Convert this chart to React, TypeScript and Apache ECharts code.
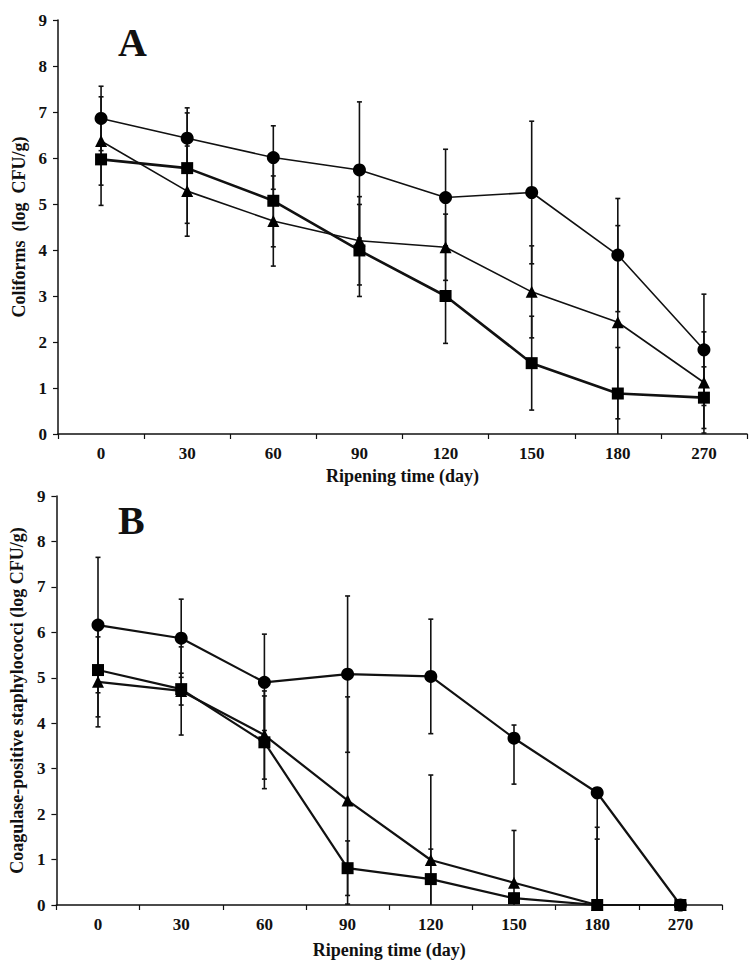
import React, { useEffect, useRef } from "react";
import * as echarts from "echarts";

const days = ["0", "30", "60", "90", "120", "150", "180", "270"];
const yTicks = [0, 9, 1];

// Panel A – Coliforms
const aCircle = [6.86, 6.43, 6.01, 5.74, 5.14, 5.25, 3.89, 1.83];
const aCircleErr = [0.7, 0.66, 0.69, 1.48, 1.05, 1.55, 1.23, 1.21];
const aTriangle = [6.37, 5.28, 4.63, 4.2, 4.06, 3.09, 2.43, 1.12];
const aTriangleErr = [0.96, 0.98, 0.98, 0.96, 0.72, 1.0, 2.1, 1.1];
const aSquare = [5.97, 5.78, 5.07, 3.99, 3.0, 1.54, 0.88, 0.79];
const aSquareErr = [1.0, 1.2, 1.0, 1.0, 1.03, 1.02, 1.0, 0.67];

// Panel B – Coagulase-positive staphylococci
const bCircle = [6.16, 5.87, 4.9, 5.08, 5.03, 3.67, 2.47, 0];
const bCircleErrUp = [1.49, 0.86, 1.06, 1.72, 1.26, 0.29, 0, 0];
const bCircleErrDown = [1.49, 0.86, 1.06, 1.72, 1.26, 1.01, 2.5, 0];
const bTriangle = [4.91, 4.71, 3.74, 2.3, 0.99, 0.49, 0, 0];
const bTriangleErr = [0.99, 0.97, 0.97, 2.28, 1.87, 1.15, 1.71, 0];
const bSquare = [5.17, 4.75, 3.58, 0.81, 0.57, 0.15, 0, 0];
const bSquareErr = [1.03, 0.35, 1.02, 0.6, 0.66, 0.1, 1.45, 0];

const FONT = "'Liberation Serif', 'Times New Roman', serif";

function errData(vals: number[], up: number[], down: number[]) {
  return vals.map((v, i) => [i, v - down[i], v + up[i]]);
}

function errSeries(data: number[][], gi: number) {
  return {
    type: "custom",
    xAxisIndex: gi,
    yAxisIndex: gi,
    z: 1,
    silent: true,
    encode: { x: 0, y: [1, 2] },
    data,
    renderItem: (params: any, api: any) => {
      const x = api.value(0);
      const lo = api.value(1);
      const hi = api.value(2);
      if (hi - lo <= 0) return { type: "group", children: [] };
      const clipped = lo < 0;
      const pHi = api.coord([x, hi]);
      const pLo = api.coord([x, Math.max(lo, 0)]);
      const style = { stroke: "#111", lineWidth: 1.6 };
      const w = 2.5;
      const children: any[] = [
        { type: "line", shape: { x1: pHi[0], y1: pHi[1], x2: pLo[0], y2: pLo[1] }, style },
        { type: "line", shape: { x1: pHi[0] - w, y1: pHi[1], x2: pHi[0] + w, y2: pHi[1] }, style },
      ];
      if (!clipped) {
        children.push({
          type: "line",
          shape: { x1: pLo[0] - w, y1: pLo[1], x2: pLo[0] + w, y2: pLo[1] },
          style,
        });
      }
      return { type: "group", children };
    },
  };
}

function lineSeries(data: number[], gi: number, symbol: string, size: number, width: number) {
  return {
    type: "line",
    xAxisIndex: gi,
    yAxisIndex: gi,
    z: 3,
    data,
    symbol,
    symbolSize: size,
    showSymbol: true,
    itemStyle: { color: "#000" },
    lineStyle: { color: "#111", width },
  };
}

const axisLabelStyle = {
  color: "#111",
  fontFamily: FONT,
  fontWeight: "bold" as const,
  fontSize: 17,
};

function xAxis(gi: number, nameGap: number) {
  return {
    type: "category",
    gridIndex: gi,
    data: days,
    boundaryGap: true,
    axisLine: { lineStyle: { color: "#111", width: 1.5 } },
    axisTick: { show: true, length: 5, lineStyle: { color: "#111", width: 1.2 } },
    axisLabel: { ...axisLabelStyle, margin: 11 },
    name: "Ripening time (day)",
    nameLocation: "middle",
    nameGap,
    nameTextStyle: { ...axisLabelStyle, fontSize: 18 },
    splitLine: { show: false },
  };
}

function yAxis(gi: number, name: string, nameGap: number) {
  return {
    type: "value",
    gridIndex: gi,
    min: yTicks[0],
    max: yTicks[1],
    interval: yTicks[2],
    axisLine: { show: true, lineStyle: { color: "#111", width: 1.5 } },
    axisTick: { show: true, length: 5, lineStyle: { color: "#111", width: 1.2 } },
    axisLabel: { ...axisLabelStyle, fontSize: 17, margin: 11 },
    splitLine: { show: false },
    name,
    nameLocation: "middle",
    nameGap,
    nameTextStyle: { ...axisLabelStyle, fontSize: 18 },
  };
}

export default function App() {
  const ref = useRef<HTMLDivElement>(null);
  useEffect(() => {
    if (!ref.current) return;
    const chart = echarts.init(ref.current, null, { renderer: "svg" });
    chart.setOption({
      animation: false,
      backgroundColor: "#fff",
      grid: [
        { left: 58, top: 20, width: 689, height: 414 },
        { left: 55, top: 496, width: 667, height: 409 },
      ],
      xAxis: [xAxis(0, 33), xAxis(1, 36)],
      yAxis: [
        yAxis(0, "Coliforms  (log  CFU/g)", 27),
        yAxis(1, "Coagulase-positive staphylococci (log CFU/g)", 26),
      ],
      graphic: [
        {
          type: "text",
          left: 118,
          top: 22,
          style: { text: "A", font: `bold 40px ${FONT}`, fill: "#111" },
        },
        {
          type: "text",
          left: 118,
          top: 500,
          style: { text: "B", font: `bold 40px ${FONT}`, fill: "#111" },
        },
      ],
      series: [
        errSeries(errData(aCircle, aCircleErr, aCircleErr), 0),
        errSeries(errData(aTriangle, aTriangleErr, aTriangleErr), 0),
        errSeries(errData(aSquare, aSquareErr, aSquareErr), 0),
        lineSeries(aCircle, 0, "circle", 13, 1.6),
        lineSeries(aTriangle, 0, "triangle", 12, 1.6),
        lineSeries(aSquare, 0, "rect", 12, 2.6),
        errSeries(errData(bCircle, bCircleErrUp, bCircleErrDown), 1),
        errSeries(errData(bTriangle, bTriangleErr, bTriangleErr), 1),
        errSeries(errData(bSquare, bSquareErr, bSquareErr), 1),
        lineSeries(bCircle, 1, "circle", 13, 2.2),
        lineSeries(bTriangle, 1, "triangle", 12, 2.2),
        lineSeries(bSquare, 1, "rect", 12, 2.2),
      ],
    });
    return () => chart.dispose();
  }, []);
  return (
    <div
      ref={ref}
      style={{ position: "absolute", left: 0, top: 0, width: 755, height: 967, background: "#fff" }}
    />
  );
}
